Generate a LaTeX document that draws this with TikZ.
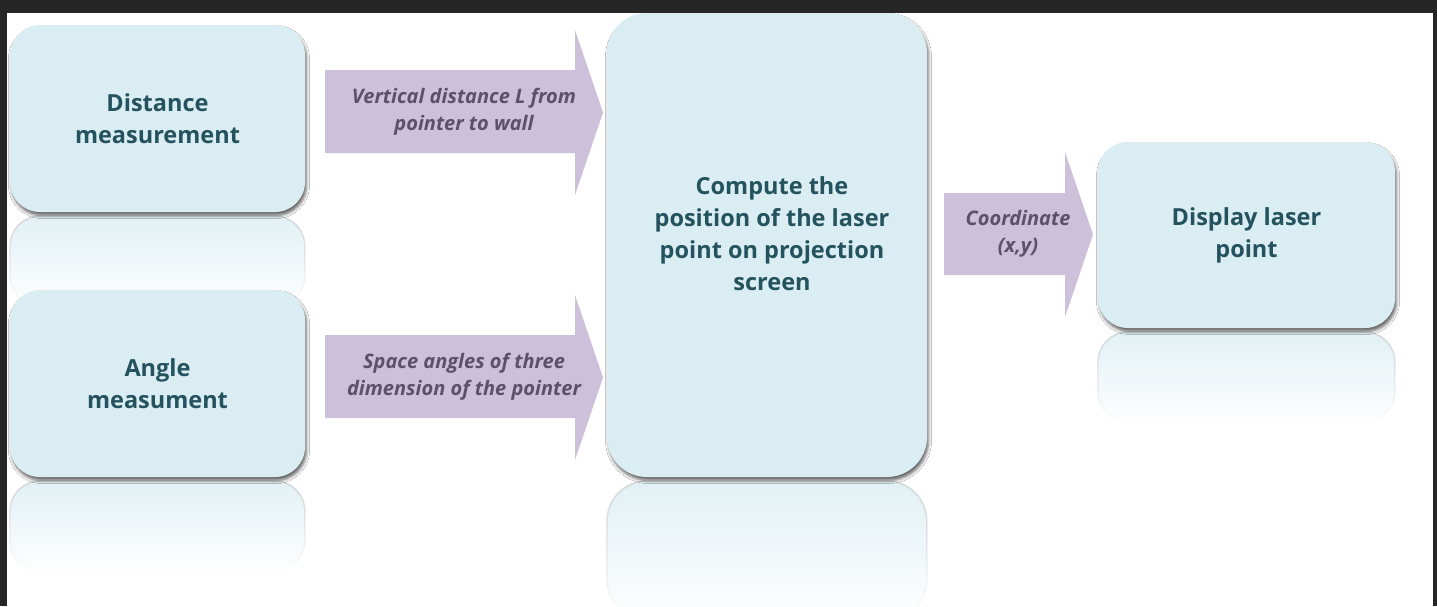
\documentclass[tikz,border=0pt]{standalone}
\usepackage{fontspec}
\setmainfont{Open Sans}
\usetikzlibrary{shadows.blur,fadings}
\definecolor{boxblue}{RGB}{218,237,243}
\definecolor{refblue}{RGB}{210,233,240}
\definecolor{boxtext}{RGB}{36,82,94}
\definecolor{arrowfill}{RGB}{204,192,218}
\definecolor{arrowtext}{RGB}{92,80,108}
\definecolor{frame}{RGB}{38,38,38}
\tikzfading[name=reflfade, top color=transparent!35, bottom color=transparent!100]
\tikzset{
  procbox/.style={draw=none, fill=boxblue, rounded corners=30pt, inner sep=0pt,
    blur shadow={shadow xshift=1.5pt, shadow yshift=-3.5pt, shadow blur radius=3pt, shadow opacity=60}},
  boxlabel/.style={text=boxtext, font=\bfseries\fontsize{23.5}{32}\selectfont, align=center},
  arrowlabel/.style={text=arrowtext, font=\bfseries\itshape\fontsize{20}{27}\selectfont, align=center, inner sep=0pt},
  blockarrow/.style={fill=arrowfill},
  refl/.style={fill=refblue, draw=gray!45, line width=1.5pt, path fading=reflfade, rounded corners=30pt}
}
\begin{document}
\begin{tikzpicture}[x=1pt,y=-1pt]
\useasboundingbox (0,0) rectangle (1437,606);
\fill[frame] (0,0) rectangle (1437,606);
\fill[white] (7,13) rectangle (1433,606);
% reflections
\path[refl] (10,216) rectangle (305,306);
\path[refl] (10,481) rectangle (305,571);
\path[refl, rounded corners=40pt] (607,481) rectangle (927,620);
\path[refl] (1098,332) rectangle (1395,422);
% boxes
\node[procbox, minimum width=295pt, minimum height=187pt, boxlabel] (dist) at (157.5,118.5) {Distance\\measurement};
\node[procbox, minimum width=295pt, minimum height=187pt, boxlabel] (ang) at (157.5,383.5) {Angle\\measument};
\node[procbox, rounded corners=40pt, minimum width=320pt, minimum height=464pt] (comp) at (767,245) {};
\node[boxlabel] (comptext) at (772,234) {Compute the\\position of the laser\\point on projection\\screen};
\node[procbox, minimum width=297pt, minimum height=186pt, boxlabel] (disp) at (1246.5,235) {Display laser\\point};
% block arrows
\fill[blockarrow] (325,70) -- (575,70) -- (575,30) -- (603,112.5) -- (575,195) -- (575,153) -- (325,153) -- cycle;
\node[arrowlabel] (a1) at (464,111.5) {Vertical distance L from\\pointer to wall};
\fill[blockarrow] (325,335) -- (575,335) -- (575,295) -- (603,377.5) -- (575,460) -- (575,418) -- (325,418) -- cycle;
\node[arrowlabel] (a2) at (464,376.5) {Space angles of three\\dimension of the pointer};
\fill[blockarrow] (944,193) -- (1065,193) -- (1065,152) -- (1093,234.5) -- (1065,317) -- (1065,275) -- (944,275) -- cycle;
\node[arrowlabel] (a3) at (1018,234) {Coordinate\\(x,y)};
\end{tikzpicture}
\end{document}
